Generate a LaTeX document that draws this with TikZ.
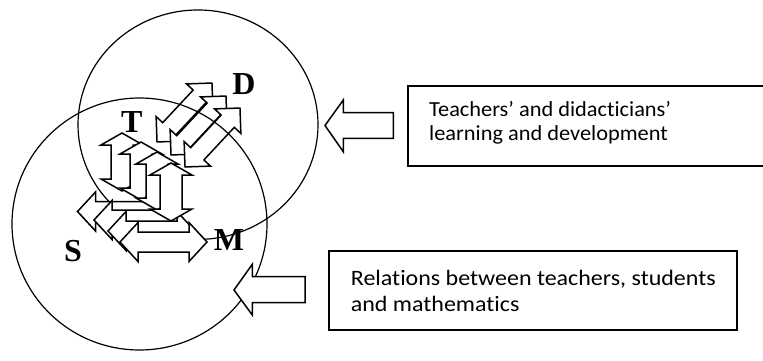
\documentclass[tikz,border=0pt]{standalone}
\usepackage{fontspec}
\setmainfont{Liberation Serif}
\newfontfamily\boxfontA[FakeStretch=1.04,Ligatures=NoCommon]{Carlito}
\newfontfamily\boxfontB[FakeStretch=1.09,Ligatures=NoCommon]{Carlito}
\begin{document}
\begin{tikzpicture}[x=1pt,y=-1pt,
  blk/.style={draw=black, fill=white, line width=1.5pt, line join=miter},
  ring/.style={draw=black, line width=1.2pt},
  lbl/.style={font=\bfseries\fontsize{32}{32}\selectfont, inner sep=0pt},
  boxnode/.style={draw=black, line width=1.4pt, fill=white, anchor=north west, inner sep=0pt, outer sep=0pt},
  txtA/.style={font=\boxfontA\fontsize{21.5}{24}\selectfont, inner sep=0pt, anchor=base west},
  txtB/.style={font=\boxfontB\fontsize{22}{26.7}\selectfont, inner sep=0pt, anchor=base west},
  harr/.pic={\path[blk] (-43.5,0) -- (-25.5,-19.5) -- (-25.5,-10) -- (25.5,-10) -- (25.5,-19.5) -- (43.5,0) -- (25.5,19.5) -- (25.5,10) -- (-25.5,10) -- (-25.5,19.5) -- cycle;},
  varr/.pic={\path[blk] (0,-29) -- (21,-17) -- (11,-17) -- (11,17) -- (21,17) -- (0,29) -- (-21,17) -- (-11,17) -- (-11,-17) -- (-21,-17) -- cycle;},
  darr/.pic={\path[blk] (-40.3,0) -- (-22.3,-18) -- (-22.3,-9) -- (22.3,-9) -- (22.3,-18) -- (40.3,0) -- (22.3,18) -- (22.3,9) -- (-22.3,9) -- (-22.3,18) -- cycle;}
]
\path[use as bounding box, fill=white] (0,0) rectangle (763,361);

% T--D arrows
\pic[rotate=47] at (184.5,112.5) {darr};
\pic[rotate=47] at (198.5,125.5) {darr};
\pic[rotate=47] at (212.5,137.5) {darr};

% circles
\draw[ring] (198,124.7) ellipse [x radius=120, y radius=114.7];
\draw[ring] (139.5,224) ellipse [x radius=127.5, y radius=126];

% S--M arrows
\pic at (121,211.5) {harr};
\pic at (137.5,220) {harr};
\pic at (151.5,231) {harr};
\pic at (163.5,242) {harr};

% T--M arrows
\pic at (122,162) {varr};
\pic at (141,171) {varr};
\pic at (157,181) {varr};
\pic at (171,192) {varr};

% pointer arrows
\path[blk] (325,125.5) -- (343.3,100) -- (343.3,112.7) -- (393.3,112.7) -- (393.3,138.3) -- (343.3,138.3) -- (343.3,151.7) -- cycle;
\path[blk] (234,290) -- (252.3,264.3) -- (252.3,276.7) -- (305,276.7) -- (305,302.7) -- (252.3,302.7) -- (252.3,315) -- cycle;

% boxes
\node[boxnode, minimum width=362, minimum height=80] (box1) at (408,86) {};
\node[txtA] (text1) at (429,116.5) {\parbox[t]{330pt}{Teachers’ and didacticians’\\learning and development}};
\node[boxnode, minimum width=408, minimum height=79] (box2) at (329,251) {};
\node[txtB] (text2) at (350.7,285) {\parbox[t]{385pt}{Relations between teachers, students\\and mathematics}};

% letters
\node[lbl] (T) at (131.7,122.5) {T};
\node[lbl] (D) at (244,84) {D};
\node[lbl] (M) at (229,240) {M};
\node[lbl] (S) at (73,251) {S};
\end{tikzpicture}
\end{document}
